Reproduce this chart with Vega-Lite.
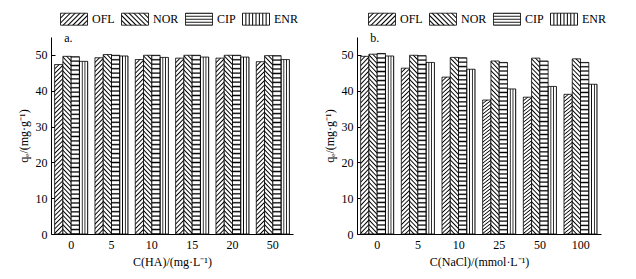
{
  "$schema": "https://vega.github.io/schema/vega-lite/v6.json",
  "padding": {"left": 17, "top": 5, "right": 5, "bottom": 5},
  "params": [
    {"name": "s40", "value": [
      {"offset":0,"color":"#000"},{"offset":0.0075,"color":"#fff"},{"offset":0.0175,"color":"#fff"},
      {"offset":0.025,"color":"#000"},{"offset":0.0325,"color":"#fff"},{"offset":0.0425,"color":"#fff"},
      {"offset":0.05,"color":"#000"},{"offset":0.0575,"color":"#fff"},{"offset":0.0675,"color":"#fff"},
      {"offset":0.075,"color":"#000"},{"offset":0.0825,"color":"#fff"},{"offset":0.0925,"color":"#fff"},
      {"offset":0.1,"color":"#000"},{"offset":0.1075,"color":"#fff"},{"offset":0.1175,"color":"#fff"},
      {"offset":0.125,"color":"#000"},{"offset":0.1325,"color":"#fff"},{"offset":0.1425,"color":"#fff"},
      {"offset":0.15,"color":"#000"},{"offset":0.1575,"color":"#fff"},{"offset":0.1675,"color":"#fff"},
      {"offset":0.175,"color":"#000"},{"offset":0.1825,"color":"#fff"},{"offset":0.1925,"color":"#fff"},
      {"offset":0.2,"color":"#000"},{"offset":0.2075,"color":"#fff"},{"offset":0.2175,"color":"#fff"},
      {"offset":0.225,"color":"#000"},{"offset":0.2325,"color":"#fff"},{"offset":0.2425,"color":"#fff"},
      {"offset":0.25,"color":"#000"},{"offset":0.2575,"color":"#fff"},{"offset":0.2675,"color":"#fff"},
      {"offset":0.275,"color":"#000"},{"offset":0.2825,"color":"#fff"},{"offset":0.2925,"color":"#fff"},
      {"offset":0.3,"color":"#000"},{"offset":0.3075,"color":"#fff"},{"offset":0.3175,"color":"#fff"},
      {"offset":0.325,"color":"#000"},{"offset":0.3325,"color":"#fff"},{"offset":0.3425,"color":"#fff"},
      {"offset":0.35,"color":"#000"},{"offset":0.3575,"color":"#fff"},{"offset":0.3675,"color":"#fff"},
      {"offset":0.375,"color":"#000"},{"offset":0.3825,"color":"#fff"},{"offset":0.3925,"color":"#fff"},
      {"offset":0.4,"color":"#000"},{"offset":0.4075,"color":"#fff"},{"offset":0.4175,"color":"#fff"},
      {"offset":0.425,"color":"#000"},{"offset":0.4325,"color":"#fff"},{"offset":0.4425,"color":"#fff"},
      {"offset":0.45,"color":"#000"},{"offset":0.4575,"color":"#fff"},{"offset":0.4675,"color":"#fff"},
      {"offset":0.475,"color":"#000"},{"offset":0.4825,"color":"#fff"},{"offset":0.4925,"color":"#fff"},
      {"offset":0.5,"color":"#000"},{"offset":0.5075,"color":"#fff"},{"offset":0.5175,"color":"#fff"},
      {"offset":0.525,"color":"#000"},{"offset":0.5325,"color":"#fff"},{"offset":0.5425,"color":"#fff"},
      {"offset":0.55,"color":"#000"},{"offset":0.5575,"color":"#fff"},{"offset":0.5675,"color":"#fff"},
      {"offset":0.575,"color":"#000"},{"offset":0.5825,"color":"#fff"},{"offset":0.5925,"color":"#fff"},
      {"offset":0.6,"color":"#000"},{"offset":0.6075,"color":"#fff"},{"offset":0.6175,"color":"#fff"},
      {"offset":0.625,"color":"#000"},{"offset":0.6325,"color":"#fff"},{"offset":0.6425,"color":"#fff"},
      {"offset":0.65,"color":"#000"},{"offset":0.6575,"color":"#fff"},{"offset":0.6675,"color":"#fff"},
      {"offset":0.675,"color":"#000"},{"offset":0.6825,"color":"#fff"},{"offset":0.6925,"color":"#fff"},
      {"offset":0.7,"color":"#000"},{"offset":0.7075,"color":"#fff"},{"offset":0.7175,"color":"#fff"},
      {"offset":0.725,"color":"#000"},{"offset":0.7325,"color":"#fff"},{"offset":0.7425,"color":"#fff"},
      {"offset":0.75,"color":"#000"},{"offset":0.7575,"color":"#fff"},{"offset":0.7675,"color":"#fff"},
      {"offset":0.775,"color":"#000"},{"offset":0.7825,"color":"#fff"},{"offset":0.7925,"color":"#fff"},
      {"offset":0.8,"color":"#000"},{"offset":0.8075,"color":"#fff"},{"offset":0.8175,"color":"#fff"},
      {"offset":0.825,"color":"#000"},{"offset":0.8325,"color":"#fff"},{"offset":0.8425,"color":"#fff"},
      {"offset":0.85,"color":"#000"},{"offset":0.8575,"color":"#fff"},{"offset":0.8675,"color":"#fff"},
      {"offset":0.875,"color":"#000"},{"offset":0.8825,"color":"#fff"},{"offset":0.8925,"color":"#fff"},
      {"offset":0.9,"color":"#000"},{"offset":0.9075,"color":"#fff"},{"offset":0.9175,"color":"#fff"},
      {"offset":0.925,"color":"#000"},{"offset":0.9325,"color":"#fff"},{"offset":0.9425,"color":"#fff"},
      {"offset":0.95,"color":"#000"},{"offset":0.9575,"color":"#fff"},{"offset":0.9675,"color":"#fff"},
      {"offset":0.975,"color":"#000"},{"offset":0.9825,"color":"#fff"},{"offset":0.9925,"color":"#fff"},
      {"offset":1,"color":"#000"}
    ]},
    {"name": "s8", "value": [
      {"offset":0,"color":"#000"},{"offset":0.0375,"color":"#fff"},{"offset":0.0875,"color":"#fff"},
      {"offset":0.125,"color":"#000"},{"offset":0.1625,"color":"#fff"},{"offset":0.2125,"color":"#fff"},
      {"offset":0.25,"color":"#000"},{"offset":0.2875,"color":"#fff"},{"offset":0.3375,"color":"#fff"},
      {"offset":0.375,"color":"#000"},{"offset":0.4125,"color":"#fff"},{"offset":0.4625,"color":"#fff"},
      {"offset":0.5,"color":"#000"},{"offset":0.5375,"color":"#fff"},{"offset":0.5875,"color":"#fff"},
      {"offset":0.625,"color":"#000"},{"offset":0.6625,"color":"#fff"},{"offset":0.7125,"color":"#fff"},
      {"offset":0.75,"color":"#000"},{"offset":0.7875,"color":"#fff"},{"offset":0.8375,"color":"#fff"},
      {"offset":0.875,"color":"#000"},{"offset":0.9125,"color":"#fff"},{"offset":0.9625,"color":"#fff"},
      {"offset":1,"color":"#000"}
    ]},
    {"name": "s4", "value": [
      {"offset":0,"color":"#000"},{"offset":0.075,"color":"#fff"},{"offset":0.175,"color":"#fff"},
      {"offset":0.25,"color":"#000"},{"offset":0.325,"color":"#fff"},{"offset":0.425,"color":"#fff"},
      {"offset":0.5,"color":"#000"},{"offset":0.575,"color":"#fff"},{"offset":0.675,"color":"#fff"},
      {"offset":0.75,"color":"#000"},{"offset":0.825,"color":"#fff"},{"offset":0.925,"color":"#fff"},
      {"offset":1,"color":"#000"}
    ]},
    {"name": "s3", "value": [
      {"offset":0,"color":"#000"},{"offset":0.1,"color":"#fff"},{"offset":0.2333,"color":"#fff"},
      {"offset":0.3333,"color":"#000"},{"offset":0.4333,"color":"#fff"},{"offset":0.5667,"color":"#fff"},
      {"offset":0.6667,"color":"#000"},{"offset":0.7667,"color":"#fff"},{"offset":0.9,"color":"#fff"},
      {"offset":1,"color":"#000"}
    ]}
  ],
  "datasets": {
    "ha": [
      {"c":"0","drug":"OFL","q":47.3},{"c":"0","drug":"NOR","q":49.6},{"c":"0","drug":"CIP","q":49.5},{"c":"0","drug":"ENR","q":48.2},
      {"c":"5","drug":"OFL","q":49.2},{"c":"5","drug":"NOR","q":50.1},{"c":"5","drug":"CIP","q":49.9},{"c":"5","drug":"ENR","q":49.7},
      {"c":"10","drug":"OFL","q":48.7},{"c":"10","drug":"NOR","q":49.9},{"c":"10","drug":"CIP","q":49.9},{"c":"10","drug":"ENR","q":49.3},
      {"c":"15","drug":"OFL","q":49.1},{"c":"15","drug":"NOR","q":49.9},{"c":"15","drug":"CIP","q":49.9},{"c":"15","drug":"ENR","q":49.4},
      {"c":"20","drug":"OFL","q":49.1},{"c":"20","drug":"NOR","q":49.9},{"c":"20","drug":"CIP","q":49.9},{"c":"20","drug":"ENR","q":49.4},
      {"c":"50","drug":"OFL","q":48.1},{"c":"50","drug":"NOR","q":49.8},{"c":"50","drug":"CIP","q":49.8},{"c":"50","drug":"ENR","q":48.7}
    ],
    "nacl": [
      {"c":"0","drug":"OFL","q":49.6},{"c":"0","drug":"NOR","q":50.2},{"c":"0","drug":"CIP","q":50.4},{"c":"0","drug":"ENR","q":49.7},
      {"c":"5","drug":"OFL","q":46.3},{"c":"5","drug":"NOR","q":49.9},{"c":"5","drug":"CIP","q":49.8},{"c":"5","drug":"ENR","q":47.9},
      {"c":"10","drug":"OFL","q":43.8},{"c":"10","drug":"NOR","q":49.3},{"c":"10","drug":"CIP","q":49.2},{"c":"10","drug":"ENR","q":46.0},
      {"c":"25","drug":"OFL","q":37.4},{"c":"25","drug":"NOR","q":48.3},{"c":"25","drug":"CIP","q":47.9},{"c":"25","drug":"ENR","q":40.5},
      {"c":"50","drug":"OFL","q":38.2},{"c":"50","drug":"NOR","q":49.1},{"c":"50","drug":"CIP","q":48.3},{"c":"50","drug":"ENR","q":41.2},
      {"c":"100","drug":"OFL","q":39.0},{"c":"100","drug":"NOR","q":48.9},{"c":"100","drug":"CIP","q":47.9},{"c":"100","drug":"ENR","q":41.8}
    ]
  },
  "spacing": 25,
  "hconcat": [
    {
      "width": 242, "height": 197,
      "layer": [
        {
          "data": {"name": "ha"},
          "mark": {"type": "bar", "strokeWidth": 0.8, "fill": {"expr": "datum.drug ? (datum.drug==='OFL'?{gradient:'linear',x1:0,y1:0,x2:0.0508,y2:1.046,stops:s40}:datum.drug==='NOR'?{gradient:'linear',x1:0,y1:1,x2:0.0508,y2:-0.046,stops:s40}:datum.drug==='CIP'?{gradient:'linear',x1:0,y1:0,x2:0,y2:1,stops:s40}:{gradient:'linear',x1:0,y1:0,x2:1,y2:0,stops:s3}) : (datum.value==='OFL'?{gradient:'linear',x1:0,y1:0,x2:1.206,y2:0.536,stops:s8}:datum.value==='NOR'?{gradient:'linear',x1:0,y1:1,x2:1.206,y2:0.464,stops:s8}:datum.value==='CIP'?{gradient:'linear',x1:0,y1:0,x2:0,y2:1,stops:s4}:{gradient:'linear',x1:0,y1:0,x2:1,y2:0,stops:s8})"}},
          "encoding": {
            "x": {"field": "c", "type": "nominal", "sort": ["0","5","10","15","20","50"], "scale": {"paddingInner": 0.18, "paddingOuter": 0.09}, "axis": {"title": "C(HA)/(mg·L⁻¹)", "labelAngle": 0, "ticks": false, "labelPadding": 5, "titlePadding": 6}},
            "xOffset": {"field": "drug", "type": "nominal", "sort": ["OFL","NOR","CIP","ENR"]},
            "y": {"field": "q", "type": "quantitative", "scale": {"domain": [0, 55], "nice": false}, "axis": {"title": "qₑ/(mg·g⁻¹)", "values": [0,10,20,30,40,50], "labelOverlap": false, "tickSize": -4, "labelPadding": 8, "titlePadding": 5}},
            "stroke": {"field": "drug", "type": "nominal", "sort": ["OFL","NOR","CIP","ENR"], "scale": {"range": ["#000","#000","#000","#000"]},
              "legend": {"orient": "none", "legendX": 9, "legendY": -32, "direction": "horizontal", "title": null}}
          }
        },
        {
          "data": {"values": [{"label": "a."}]},
          "mark": {"type": "text", "align": "left", "baseline": "middle", "dx": -7, "dy": 1, "fontSize": 12},
          "encoding": {
            "x": {"datum": "0", "type": "nominal", "axis": {"title": "C(HA)/(mg·L⁻¹)", "labelAngle": 0, "ticks": false, "labelPadding": 5, "titlePadding": 6}},
            "y": {"datum": 55, "type": "quantitative", "axis": {"title": "qₑ/(mg·g⁻¹)", "values": [0,10,20,30,40,50], "labelOverlap": false, "tickSize": -4, "labelPadding": 8, "titlePadding": 5}},
            "text": {"field": "label"}
          }
        }
      ]
    },
    {
      "width": 244, "height": 197,
      "layer": [
        {
          "data": {"name": "nacl"},
          "mark": {"type": "bar", "strokeWidth": 0.8, "fill": {"expr": "datum.drug ? (datum.drug==='OFL'?{gradient:'linear',x1:0,y1:0,x2:0.0508,y2:1.046,stops:s40}:datum.drug==='NOR'?{gradient:'linear',x1:0,y1:1,x2:0.0508,y2:-0.046,stops:s40}:datum.drug==='CIP'?{gradient:'linear',x1:0,y1:0,x2:0,y2:1,stops:s40}:{gradient:'linear',x1:0,y1:0,x2:1,y2:0,stops:s3}) : (datum.value==='OFL'?{gradient:'linear',x1:0,y1:0,x2:1.206,y2:0.536,stops:s8}:datum.value==='NOR'?{gradient:'linear',x1:0,y1:1,x2:1.206,y2:0.464,stops:s8}:datum.value==='CIP'?{gradient:'linear',x1:0,y1:0,x2:0,y2:1,stops:s4}:{gradient:'linear',x1:0,y1:0,x2:1,y2:0,stops:s8})"}},
          "encoding": {
            "x": {"field": "c", "type": "nominal", "sort": ["0","5","10","25","50","100"], "scale": {"paddingInner": 0.18, "paddingOuter": 0.09}, "axis": {"title": "C(NaCl)/(mmol·L⁻¹)", "labelAngle": 0, "ticks": false, "labelPadding": 5, "titlePadding": 6}},
            "xOffset": {"field": "drug", "type": "nominal", "sort": ["OFL","NOR","CIP","ENR"]},
            "y": {"field": "q", "type": "quantitative", "scale": {"domain": [0, 55], "nice": false}, "axis": {"title": "qₑ/(mg·g⁻¹)", "values": [0,10,20,30,40,50], "labelOverlap": false, "tickSize": -4, "labelPadding": 8, "titlePadding": 5}},
            "stroke": {"field": "drug", "type": "nominal", "sort": ["OFL","NOR","CIP","ENR"], "scale": {"range": ["#000","#000","#000","#000"]},
              "legend": {"orient": "none", "legendX": 11, "legendY": -32, "direction": "horizontal", "title": null}}
          }
        },
        {
          "data": {"values": [{"label": "b."}]},
          "mark": {"type": "text", "align": "left", "baseline": "middle", "dx": -7, "dy": 1, "fontSize": 12},
          "encoding": {
            "x": {"datum": "0", "type": "nominal", "axis": {"title": "C(NaCl)/(mmol·L⁻¹)", "labelAngle": 0, "ticks": false, "labelPadding": 5, "titlePadding": 6}},
            "y": {"datum": 55, "type": "quantitative", "axis": {"title": "qₑ/(mg·g⁻¹)", "values": [0,10,20,30,40,50], "labelOverlap": false, "tickSize": -4, "labelPadding": 8, "titlePadding": 5}},
            "text": {"field": "label"}
          }
        }
      ]
    }
  ],
  "resolve": {"scale": {"stroke": "independent", "x": "independent", "y": "independent"}, "legend": {"stroke": "independent"}},
  "config": {
    "font": "Liberation Serif",
    "view": {"stroke": null},
    "text": {"font": "Liberation Serif", "color": "#000"},
    "axis": {"labelFont": "Liberation Serif", "labelFontSize": 12, "labelColor": "#000", "titleFont": "Liberation Serif", "titleFontSize": 12, "titleFontWeight": "normal", "titleColor": "#000", "domainColor": "#000", "tickColor": "#000", "grid": false, "domainWidth": 1},
    "legend": {"symbolType": "M-1,-0.444H1V0.444H-1Z", "symbolSize": 729, "symbolStrokeWidth": 0.8, "symbolStrokeColor": "#000", "labelFont": "Liberation Serif", "labelFontSize": 12, "labelColor": "#000", "labelOffset": 4, "columnPadding": 4}
  }
}
